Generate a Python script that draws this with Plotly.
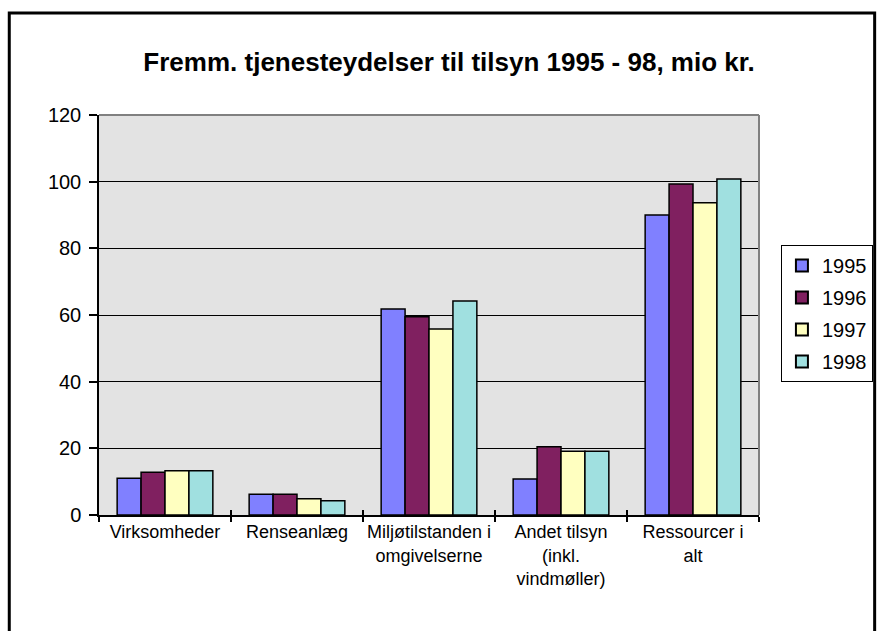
import plotly.graph_objects as go

categories = ["Virksomheder", "Renseanlæg", "Miljøtilstanden i<br>omgivelserne",
              "Andet tilsyn<br>(inkl.<br>vindmøller)", "Ressourcer i<br>alt"]
years = ["1995", "1996", "1997", "1998"]
v1995 = [11.0, 6.2, 61.8, 10.8, 90.0]
v1996 = [12.8, 6.2, 59.5, 20.5, 99.3]
v1997 = [13.3, 4.9, 55.8, 19.1, 93.7]
v1998 = [13.3, 4.3, 64.2, 19.1, 100.8]
series = [v1995, v1996, v1997, v1998]
colors = ["#8080FF", "#802060", "#FFFFC0", "#A0E0E0"]
yticks = [0, 20, 40, 60, 80, 100, 120]

W, H = 885, 631
L, R, T, B = 99, 761, 115, 515

fig = go.Figure()
for name, vals, col in zip(years, series, colors):
    fig.add_trace(go.Bar(
        x=categories, y=vals, name=name,
        marker=dict(color=col, line=dict(color="black", width=1.5)),
        legendgroup=name,
    ))
# invisible helper trace so the overlay axis can draw inward tick marks
fig.add_trace(go.Scatter(x=categories, y=[0] * len(categories), xaxis="x2",
                         showlegend=False, hoverinfo="skip", mode="markers",
                         marker=dict(opacity=0)))

def px2x(px):
    return (px - L) / (R - L)

def px2y(py):
    return (B - py) / (B - T)

shapes = [
    dict(type="line", xref="paper", yref="paper", x0=0, x1=1, y0=1, y1=1,
         line=dict(color="#808080", width=2), layer="above"),
    dict(type="line", xref="paper", yref="paper", x0=1, x1=1, y0=0, y1=1,
         line=dict(color="#808080", width=2), layer="above"),
    dict(type="rect", xref="paper", yref="paper",
         x0=px2x(9), x1=px2x(877), y0=px2y(645), y1=px2y(13),
         line=dict(color="black", width=3), fillcolor="rgba(0,0,0,0)"),
]

fig.update_layout(
    width=W, height=H,
    margin=dict(l=L, r=W - R, t=T, b=H - B),
    paper_bgcolor="white",
    plot_bgcolor="#E3E3E3",
    font=dict(family="Liberation Sans, Arial, sans-serif", color="black"),
    title=dict(text="<b>Fremm. tjenesteydelser til tilsyn 1995 - 98, mio kr.</b>",
               x=449 / W, xanchor="center", y=1 - 62 / H, yanchor="middle",
               font=dict(size=26, color="black")),
    barmode="group", bargap=0.275, bargroupgap=0,
    showlegend=True,
    legend=dict(x=px2x(783), y=px2y(245), xanchor="left", yanchor="top",
                bordercolor="black", borderwidth=1, bgcolor="white",
                font=dict(size=20), tracegroupgap=3,
                itemsizing="constant", itemwidth=30),
    shapes=shapes,
    xaxis=dict(showgrid=False, showline=True, linecolor="black", linewidth=1.5,
               ticks="outside", tickson="boundaries", ticklen=5, tickcolor="black",
               tickwidth=1.5, tickfont=dict(size=18), tickangle=0,
               range=[-0.5, 4.5], fixedrange=True),
    xaxis2=dict(overlaying="x", side="bottom", showgrid=False, showline=False,
                ticks="inside", tickson="boundaries", ticklen=5, tickcolor="black",
                tickwidth=1.5, showticklabels=False, range=[-0.5, 4.5],
                categoryorder="array", categoryarray=categories,
                fixedrange=True),
    yaxis=dict(range=[0, 120], tickvals=yticks, showgrid=True, gridcolor="black",
               gridwidth=1, showline=True, linecolor="black", linewidth=1.5,
               ticks="outside", ticklen=8, tickcolor="black", tickwidth=1.5,
               tickfont=dict(size=20), zeroline=False, fixedrange=True,
               ticklabelstandoff=4),
)

fig.write_html("out.html", config={"displayModeBar": False},
               post_script="document.body.style.margin='0';document.body.style.overflow='hidden';")
